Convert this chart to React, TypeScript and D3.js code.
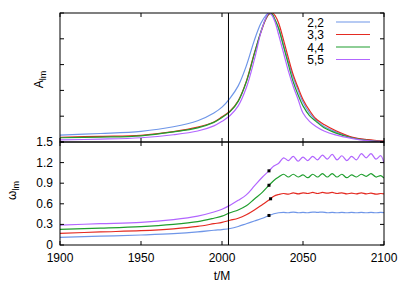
import React from "react";
import * as d3 from "d3";

// top panel: normalised amplitude A_lm
const tA = [1900, 1925, 1950, 1970, 1985, 1995, 2000, 2005, 2010, 2015, 2020, 2024, 2027, 2029, 2031, 2033, 2035, 2038, 2041, 2044, 2047, 2050, 2054, 2058, 2063, 2070, 2080, 2090, 2100];
const a22 = [0.054, 0.066, 0.083, 0.118, 0.165, 0.225, 0.27, 0.34, 0.435, 0.59, 0.79, 0.92, 0.98, 1.0, 0.985, 0.94, 0.88, 0.75, 0.62, 0.5, 0.4, 0.31, 0.225, 0.17, 0.12, 0.08, 0.036, 0.015, 0.005];
const a33 = [0.037, 0.044, 0.052, 0.08, 0.115, 0.155, 0.195, 0.24, 0.32, 0.47, 0.69, 0.85, 0.95, 0.99, 1.0, 0.975, 0.92, 0.79, 0.65, 0.52, 0.42, 0.33, 0.245, 0.18, 0.135, 0.089, 0.039, 0.018, 0.006];
const a44 = [0.033, 0.038, 0.048, 0.078, 0.11, 0.152, 0.19, 0.235, 0.315, 0.465, 0.685, 0.855, 0.955, 0.995, 0.99, 0.94, 0.88, 0.74, 0.6, 0.465, 0.365, 0.28, 0.205, 0.16, 0.11, 0.071, 0.033, 0.013, 0.003];
const a55 = [0.016, 0.022, 0.033, 0.056, 0.085, 0.125, 0.16, 0.205, 0.28, 0.42, 0.64, 0.85, 0.96, 1.0, 0.98, 0.92, 0.83, 0.69, 0.55, 0.43, 0.33, 0.225, 0.16, 0.12, 0.085, 0.055, 0.028, 0.01, 0.003];

// bottom panel: frequency omega_lm
const tW = [1900, 1925, 1950, 1970, 1985, 1995, 2000, 2005, 2010, 2015, 2020, 2025, 2029, 2032, 2035, 2038, 2041, 2044, 2047, 2050, 2053, 2056, 2059, 2062, 2065, 2068, 2071, 2074, 2077, 2080, 2083, 2086, 2089, 2092, 2095, 2098, 2100];
const w22 = [0.112, 0.128, 0.146, 0.165, 0.19, 0.215, 0.225, 0.24, 0.27, 0.31, 0.35, 0.39, 0.43, 0.455, 0.47, 0.475, 0.47, 0.48, 0.47, 0.475, 0.47, 0.48, 0.475, 0.48, 0.47, 0.475, 0.47, 0.475, 0.47, 0.475, 0.47, 0.475, 0.47, 0.475, 0.47, 0.475, 0.47];
const w33 = [0.17, 0.19, 0.208, 0.235, 0.27, 0.31, 0.33, 0.36, 0.39, 0.44, 0.51, 0.59, 0.655, 0.71, 0.735, 0.75, 0.74, 0.76, 0.745, 0.76, 0.75, 0.765, 0.75, 0.765, 0.755, 0.765, 0.75, 0.76, 0.745, 0.755, 0.745, 0.76, 0.745, 0.755, 0.74, 0.75, 0.745];
const w44 = [0.228, 0.245, 0.267, 0.3, 0.34, 0.39, 0.42, 0.47, 0.51, 0.57, 0.67, 0.77, 0.87, 0.94, 0.99, 1.03, 0.99, 1.03, 0.99, 1.02, 0.98, 1.03, 0.99, 1.04, 0.99, 1.04, 0.99, 1.03, 0.98, 1.02, 0.99, 1.03, 1.0, 1.04, 0.99, 1.01, 0.975];
const w55 = [0.29, 0.31, 0.33, 0.37, 0.42, 0.48, 0.52, 0.58, 0.65, 0.73, 0.86, 0.99, 1.08, 1.15, 1.19, 1.27, 1.23, 1.29, 1.22, 1.28, 1.23, 1.29, 1.24, 1.31, 1.25, 1.32, 1.24, 1.3, 1.23, 1.29, 1.24, 1.33, 1.27, 1.33, 1.25, 1.3, 1.19];

const labels = ["2,2", "3,3", "4,4", "5,5"];
const colors = ["#6f96e8", "#e42b22", "#1f9e2e", "#b266ff"];
const dotT = [2029, 2030, 2029, 2029];
const dotW = [0.43, 0.673, 0.87, 1.08];
const tMerger = 2004;
const xTicks = [1900, 1950, 2000, 2050, 2100];
const aTicks = [0, 0.2, 0.4, 0.6, 0.8, 1.0];
const wTicks = [0, 0.3, 0.6, 0.9, 1.2, 1.5];

const W = 407;
const H = 285;
const L = 60, R = 384, T = 13, M = 142, B = 245;
const font = "'Liberation Sans', Arial, sans-serif";

export default function App() {
  const x = d3.scaleLinear().domain([1900, 2100]).range([L, R]);
  const yA = d3.scaleLinear().domain([0, 1]).range([M, T]);
  const yW = d3.scaleLinear().domain([0, 1.5]).range([B, M]);

  const lineA = d3.line<number>().x((_, i) => x(tA[i])).y((d) => yA(d)).curve(d3.curveCatmullRom.alpha(0.5));
  const lineW = d3.line<number>().x((_, i) => x(tW[i])).y((d) => yW(d)).curve(d3.curveCatmullRom.alpha(0.5));

  const aSeries = [a22, a33, a44, a55];
  const wSeries = [w22, w33, w44, w55];
  const tick = 4;

  return (
    <svg width={W} height={H} style={{ position: "absolute", left: 0, top: 0 }} fontFamily={font}>
      <defs>
        <clipPath id="clipTop"><rect x={L} y={T} width={R - L} height={M - T} /></clipPath>
        <clipPath id="clipBot"><rect x={L} y={M} width={R - L} height={B - M} /></clipPath>
      </defs>

      {/* curves */}
      <g clipPath="url(#clipTop)" fill="none" strokeWidth={1.2}>
        {aSeries.map((s, i) => (
          <path key={i} d={lineA(s) || ""} stroke={colors[i]} />
        ))}
      </g>
      <g clipPath="url(#clipBot)" fill="none" strokeWidth={1.2}>
        {wSeries.map((s, i) => (
          <path key={i} d={lineW(s) || ""} stroke={colors[i]} />
        ))}
      </g>
      {dotT.map((t, i) => (
        <rect key={i} x={x(t) - 1.5} y={yW(dotW[i]) - 1.5} width={3} height={3} fill="#000" />
      ))}

      {/* merger line */}
      <line x1={x(tMerger)} x2={x(tMerger)} y1={T} y2={B} stroke="#000" strokeWidth={1} />

      {/* ticks */}
      <g stroke="#000" strokeWidth={1}>
        {xTicks.map((t) => (
          <g key={t}>
            <line x1={x(t)} x2={x(t)} y1={T} y2={T + tick} />
            <line x1={x(t)} x2={x(t)} y1={M} y2={M - tick} />
            <line x1={x(t)} x2={x(t)} y1={M} y2={M + tick} />
            <line x1={x(t)} x2={x(t)} y1={B} y2={B - tick} />
          </g>
        ))}
        {aTicks.map((v) => (
          <g key={v}>
            <line x1={L} x2={L + tick} y1={yA(v)} y2={yA(v)} />
            <line x1={R} x2={R - tick} y1={yA(v)} y2={yA(v)} />
          </g>
        ))}
        {wTicks.map((v) => (
          <g key={v}>
            <line x1={L} x2={L + tick} y1={yW(v)} y2={yW(v)} />
            <line x1={R} x2={R - tick} y1={yW(v)} y2={yW(v)} />
          </g>
        ))}
      </g>

      {/* frames */}
      <rect x={L} y={T} width={R - L} height={M - T} fill="none" stroke="#000" strokeWidth={1} />
      <rect x={L} y={M} width={R - L} height={B - M} fill="none" stroke="#000" strokeWidth={1} />

      {/* tick labels */}
      <g fontSize={12} fill="#000">
        {wTicks.map((v) => (
          <text key={v} x={L - 7} y={yW(v) + 4} textAnchor="end">
            {v === 0 ? "0" : v.toFixed(1)}
          </text>
        ))}
        {xTicks.map((t) => (
          <text key={t} x={x(t)} y={B + 17} textAnchor="middle">{t}</text>
        ))}
        <text x={(L + R) / 2} y={B + 35} textAnchor="middle">t/M</text>
      </g>

      {/* axis titles */}
      <text transform={`translate(43,${(T + M) / 2 + 2}) rotate(-90)`} textAnchor="middle" fontSize={12}>
        A<tspan fontSize={9} dy={3}>lm</tspan>
      </text>
      <text transform={`translate(16,${(M + B) / 2 - 3}) rotate(-90)`} textAnchor="middle" fontSize={12}>
        ω<tspan fontSize={9} dy={3}>lm</tspan>
      </text>

      {/* legend */}
      {labels.map((lab, i) => (
        <g key={lab}>
          <text x={324} y={22 + i * 12.5 + 4.5} textAnchor="end" fontSize={12}>{lab}</text>
          <line x1={336} x2={370} y1={22 + i * 12.5} y2={22 + i * 12.5} stroke={colors[i]} strokeWidth={1.2} />
        </g>
      ))}
    </svg>
  );
}
